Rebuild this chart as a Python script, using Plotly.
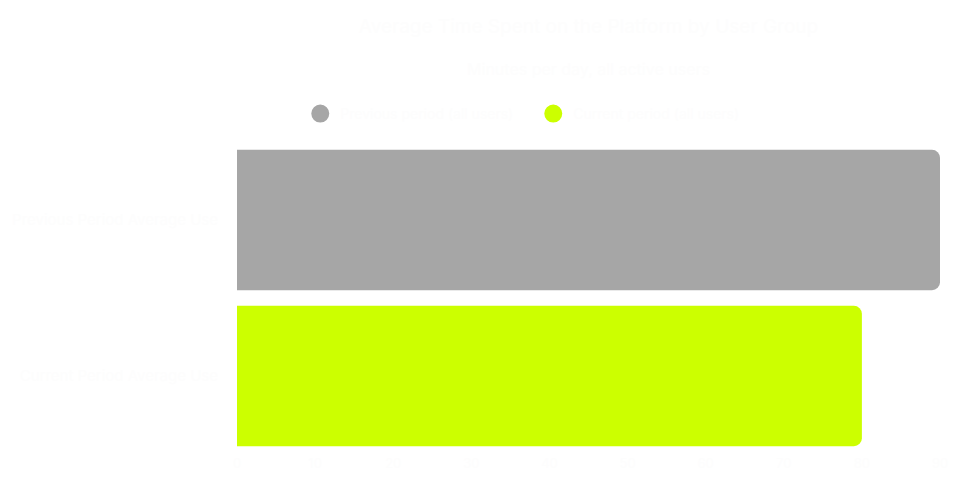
import plotly.graph_objects as go

# data
categories = ["Previous Period Average Use", "Current Period Average Use"]
values = [90, 80]
series_names = ["Previous period (all users)", "Current period (all users)"]
colors = ["#A6A6A6", "#CCFF00"]
x_ticks = [0, 10, 20, 30, 40, 50, 60, 70, 80, 90]

txt = "#FDFDFD"

fig = go.Figure()

# one bar trace per category so each keeps its own colour
for cat, val, col in zip(categories, values, colors):
    fig.add_trace(go.Bar(
        y=[cat], x=[val], orientation="h",
        marker=dict(color=col, line=dict(width=0)),
        showlegend=False, hoverinfo="x+y",
    ))

# round legend markers
for name, col in zip(series_names, colors):
    fig.add_trace(go.Scatter(
        x=[None], y=[None], mode="markers", name=name,
        marker=dict(symbol="circle", size=16, color=col, line=dict(width=2, color=col)),
    ))

fig.update_layout(
    width=967, height=483,
    margin=dict(l=229, r=35, t=134, b=37),
    paper_bgcolor="white", plot_bgcolor="white",
    font=dict(family="Inter", size=14, color=txt),
    barmode="overlay", bargap=0.1, barcornerradius=8,
    title=dict(
        text="Average Time Spent on the Platform by User Group",
        subtitle=dict(text="Minutes per day, all active users", font=dict(size=16, color=txt)),
        x=0.5, xref="paper", xanchor="center",
        y=0.976, yref="container", yanchor="top",
        font=dict(size=19, color=txt),
    ),
    legend=dict(
        orientation="h", x=0.09, xanchor="left", y=1.09, yanchor="middle",
        entrywidth=188, font=dict(size=14, color=txt), bgcolor="rgba(0,0,0,0)",
    ),
    xaxis=dict(
        range=[0, 90], tickvals=x_ticks, showgrid=False, zeroline=False,
        showline=False, automargin=False, tickfont=dict(size=13, color=txt),
    ),
    yaxis=dict(
        categoryorder="array", categoryarray=categories[::-1],
        showgrid=False, zeroline=False, showline=False, ticks="",
        automargin=False, ticklabelstandoff=18, tickfont=dict(size=15, color=txt),
    ),
)

fig.write_html("out.html")
